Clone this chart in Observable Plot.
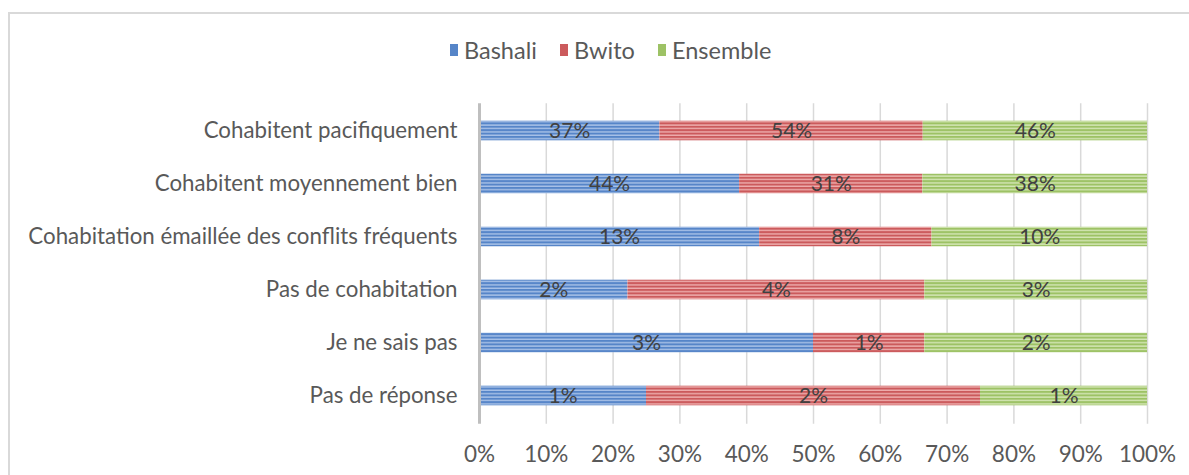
<!DOCTYPE html>
<html>
<head>
<meta charset="utf-8">
<script src="https://cdn.jsdelivr.net/npm/d3@7"></script>
<script src="https://cdn.jsdelivr.net/npm/@observablehq/plot@0.6"></script>
<style>
  html, body { margin: 0; padding: 0; background: #fff; }
  #wrap { position: relative; width: 1189px; height: 475px; overflow: hidden; font-family: Lato, "Open Sans", sans-serif; }
  #frame { position: absolute; left: 8px; top: 12px; width: 1300px; height: 600px; border: 2px solid #d9d9d9; box-sizing: border-box; }
  #legend { position: absolute; top: 36px; left: 0; width: 1189px; height: 28px; }
  .item { position: absolute; top: 0; display: flex; align-items: center; height: 28px; font-size: 23.5px; color: #595959; }
  .sw { width: 8px; height: 12px; margin-right: 6px; }
  #chart { position: absolute; left: 0; top: 0; }
</style>
</head>
<body>
<svg width="0" height="0" style="position:absolute">
  <defs>
    <pattern id="pb" patternUnits="userSpaceOnUse" width="10" height="3.4">
      <rect width="10" height="3.4" fill="#5685c8"/>
      <rect y="2" width="10" height="1.4" fill="#a9c2e8"/>
    </pattern>
    <pattern id="pr" patternUnits="userSpaceOnUse" width="10" height="3.4">
      <rect width="10" height="3.4" fill="#cb5a5c"/>
      <rect y="2" width="10" height="1.4" fill="#eeaeae"/>
    </pattern>
    <pattern id="pg" patternUnits="userSpaceOnUse" width="10" height="3.4">
      <rect width="10" height="3.4" fill="#9dc265"/>
      <rect y="2" width="10" height="1.4" fill="#d4e6b6"/>
    </pattern>
  </defs>
</svg>
<div id="wrap">
  <div id="frame"></div>
  <div id="legend"></div>
  <div id="chart"></div>
</div>
<script>
const categories = [
  "Cohabitent pacifiquement",
  "Cohabitent moyennement bien",
  "Cohabitation émaillée des conflits fréquents",
  "Pas de cohabitation",
  "Je ne sais pas",
  "Pas de réponse"
];
const series = ["Bashali", "Bwito", "Ensemble"];
const bashali  = [37, 44, 13, 2, 3, 1];
const bwito    = [54, 31, 8, 4, 1, 2];
const ensemble = [46, 38, 10, 3, 2, 1];
const xTickLabels = [0, 10, 20, 30, 40, 50, 60, 70, 80, 90, 100];

const patterns = ["url(#pb)", "url(#pr)", "url(#pg)"];
const swatchColors = ["#5685c8", "#cb5a5c", "#9dc265"];

const valuesBySeries = [bashali, bwito, ensemble];
const data = [];
categories.forEach((c, i) => {
  series.forEach((s, j) => {
    data.push({category: c, series: s, value: valuesBySeries[j][i]});
  });
});

const ticks = xTickLabels.map(v => v / 100);

const chart = Plot.plot({
  width: 1189,
  height: 475,
  marginLeft: 479,
  marginRight: 42,
  marginTop: 103.3,
  marginBottom: 51.3,
  style: {fontFamily: "Lato, 'Open Sans', sans-serif", background: "transparent"},
  x: {domain: [0, 1], ticks: ticks, label: null},
  y: {domain: categories, padding: 0, label: null},
  color: {domain: series, range: patterns},
  marks: [
    Plot.ruleX(ticks.slice(1), {stroke: "#d9d9d9", strokeWidth: 1.5}),
    Plot.barX(data, Plot.stackX({
      x: "value", y: "category", fill: "series", offset: "normalize",
      insetTop: 16.7, insetBottom: 16.7
    })),
    Plot.ruleX([0], {stroke: "#bfbfbf", strokeWidth: 3}),
    Plot.text(data, Plot.stackX({
      x: "value", y: "category", offset: "normalize",
      text: d => d.value + "%", fill: "#404040", fontSize: 21
    })),
    Plot.axisX({
      ticks: ticks, tickSize: 0, tickPadding: 22, fontSize: 22.5, fill: "#595959", label: null,
      tickFormat: d => Math.round(d * 100) + "%"
    }),
    Plot.axisY({
      tickSize: 0, tickPadding: 22, fontSize: 22.3, fill: "#595959", label: null
    })
  ]
});
document.getElementById("chart").appendChild(chart);

const legend = document.getElementById("legend");
const lefts = [450, 560, 658];
series.forEach((s, i) => {
  const it = document.createElement("div");
  it.className = "item";
  it.style.left = lefts[i] + "px";
  it.innerHTML = `<span class="sw" style="background:${swatchColors[i]}"></span>${s}`;
  legend.appendChild(it);
});
</script>
</body>
</html>
